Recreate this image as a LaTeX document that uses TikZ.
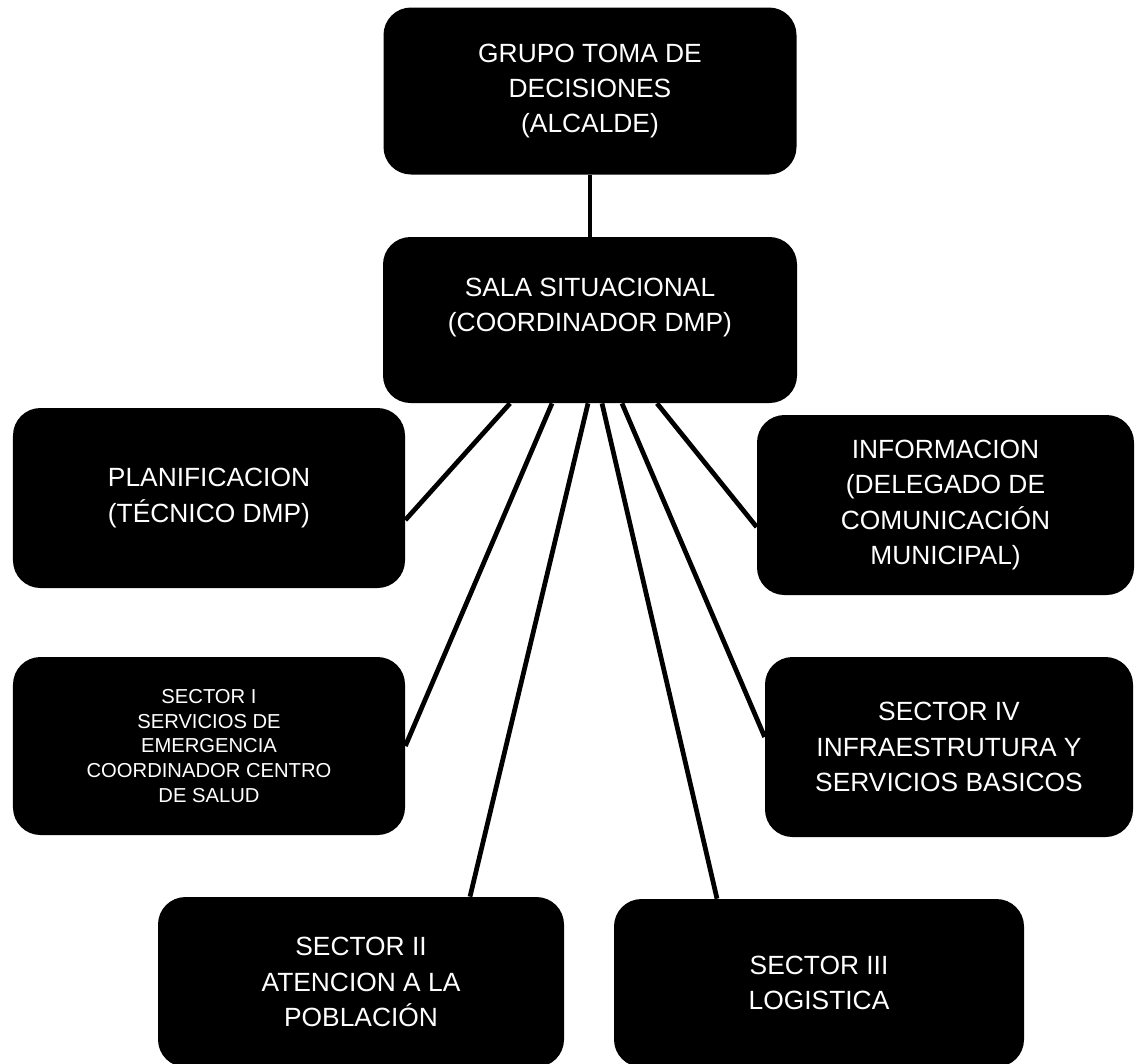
\documentclass[tikz,border=0pt]{standalone}
\usepackage{fontspec}
\setmainfont{Liberation Sans}
\usepackage{xcolor}
\usepackage{tikz}
\usetikzlibrary{calc}
\definecolor{ink}{HTML}{000000}
\definecolor{paper}{HTML}{FFFFFF}
\tikzset{
  caja/.style={fill=ink, rounded corners=0.55cm, text=paper, align=center, inner sep=0pt,
    font=\fontsize{15}{20}\selectfont},
  cajachica/.style={caja, font=\fontsize{11.5}{14}\selectfont},
  link/.style={draw=ink, line width=2.7pt},
}
\begin{document}
\begin{tikzpicture}
  \useasboundingbox[fill=paper] (0,0) rectangle (22.7,-21.26);

  \node[caja, minimum width=8.26cm, minimum height=3.34cm] (grupo) at (11.8,-1.82)
    {GRUPO TOMA DE\\DECISIONES\\(ALCALDE)};
  \node[caja, minimum width=8.28cm, minimum height=3.32cm] (sala) at (11.8,-6.4)
    {SALA SITUACIONAL\\(COORDINADOR DMP)\\[-3pt]\mbox{}};

  \node[caja, minimum width=7.84cm, minimum height=3.6cm] (plan) at (4.18,-9.96)
    {PLANIFICACION\\(TÉCNICO DMP)};
  \node[cajachica, minimum width=7.84cm, minimum height=3.56cm] (sec1) at (4.18,-14.92)
    {SECTOR I\\SERVICIOS DE\\EMERGENCIA\\COORDINADOR CENTRO\\DE SALUD};
  \node[caja, minimum width=7.54cm, minimum height=3.6cm] (info) at (18.91,-10.1)
    {INFORMACION\\(DELEGADO DE\\COMUNICACIÓN\\MUNICIPAL)};
  \node[caja, minimum width=7.36cm, minimum height=3.6cm] (sec4) at (18.98,-14.94)
    {SECTOR IV\\INFRAESTRUTURA Y\\SERVICIOS BASICOS};
  \node[caja, minimum width=8.12cm, minimum height=3.4cm] (sec2) at (7.22,-19.64)
    {SECTOR II\\ATENCION A LA\\POBLACIÓN};
  \node[caja, minimum width=8.2cm, minimum height=3.36cm] (sec3) at (16.38,-19.66)
    {SECTOR III\\LOGISTICA};

  \draw[link] (grupo.south) -- (sala.north);
  \draw[link] ($(sala.south)+(-1.6,0)$) -- ($(plan.east)+(0,-0.44)$);
  \draw[link] ($(sala.south)+(-0.76,0)$) -- (sec1.east);
  \draw[link] ($(sala.south)+(-0.04,0)$) -- ($(sec2.north)+(2.18,0)$);
  \draw[link] ($(sala.south)+(0.24,0)$) -- ($(sec3.north)+(-2.04,0)$);
  \draw[link] ($(sala.south)+(0.64,0)$) -- ($(sec4.west)+(0,0.2)$);
  \draw[link] ($(sala.south)+(1.34,0)$) -- ($(info.west)+(0,-0.44)$);
\end{tikzpicture}
\end{document}
